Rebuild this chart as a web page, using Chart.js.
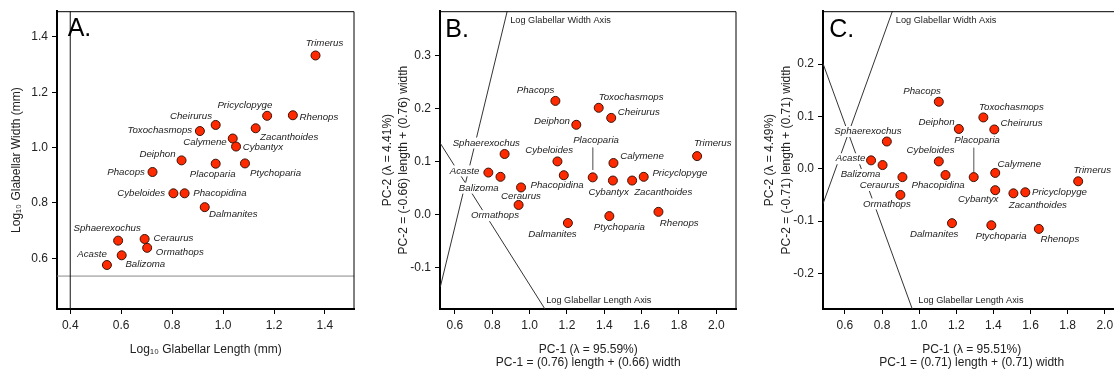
<!DOCTYPE html>
<html>
<head>
<meta charset="utf-8">
<script src="https://cdn.jsdelivr.net/npm/chart.js@4.4.1/dist/chart.umd.min.js"></script>
<style>
  html, body { margin: 0; padding: 0; background: #fff; overflow: hidden; }
  body { width: 1114px; height: 372px; position: relative; }
  .panel { position: absolute; top: 0; height: 372px; }
</style>
</head>
<body>
<div class="panel" style="left:0;width:360px"><canvas id="chartA"></canvas></div>
<div class="panel" style="left:370px;width:372px"><canvas id="chartB"></canvas></div>
<div class="panel" style="left:740px;width:386px"><canvas id="chartC"></canvas></div>
<script>
// taxa, same order in every array
const species = ['Acaste', 'Balizoma', 'Calymene', 'Ceraurus', 'Cheirurus', 'Cybantyx', 'Cybeloides',
  'Dalmanites', 'Deiphon', 'Ormathops', 'Phacopidina', 'Phacops', 'Placoparia', 'Pricyclopyge',
  'Ptychoparia', 'Rhenops', 'Sphaerexochus', 'Toxochasmops', 'Trimerus', 'Zacanthoides'];

// A. log10 glabellar length / width (mm)
const logLength = [0.544, 0.602, 1.038, 0.692, 0.971, 1.051, 0.805, 0.928, 0.837, 0.702,
  0.849, 0.723, 0.971, 1.173, 1.086, 1.274, 0.588, 0.909, 1.363, 1.128];
const logWidth = [0.576, 0.611, 1.033, 0.670, 1.082, 1.004, 0.835, 0.785, 0.954, 0.638,
  0.835, 0.912, 0.942, 1.115, 0.943, 1.117, 0.664, 1.060, 1.333, 1.070];

// B. PCA scores
const pc1B = [0.779, 0.844, 1.449, 0.954, 1.437, 1.446, 1.149, 1.205, 1.250, 0.941,
  1.183, 1.138, 1.338, 1.611, 1.427, 1.690, 0.866, 1.370, 1.897, 1.549];
const pc2B = [0.079, 0.071, 0.097, 0.051, 0.182, 0.064, 0.100, -0.016, 0.169, 0.018,
  0.074, 0.214, 0.070, 0.071, -0.003, 0.005, 0.114, 0.201, 0.110, 0.064];

// C. PCA scores
const pc1C = [0.741, 0.803, 1.410, 0.910, 1.405, 1.410, 1.106, 1.177, 1.214, 0.899,
  1.142, 1.106, 1.294, 1.572, 1.389, 1.645, 0.826, 1.346, 1.857, 1.508];
const pc2C = [0.016, 0.007, -0.008, -0.016, 0.075, -0.041, 0.014, -0.104, 0.076, -0.050,
  -0.012, 0.128, -0.016, -0.045, -0.108, -0.115, 0.052, 0.098, -0.024, -0.047];

// tick labels
const ticksAx = [0.4, 0.6, 0.8, 1.0, 1.2, 1.4];
const ticksAy = [0.6, 0.8, 1.0, 1.2, 1.4];
const ticksBx = [0.6, 0.8, 1.0, 1.2, 1.4, 1.6, 1.8, 2.0];
const ticksBy = [-0.1, 0.0, 0.1, 0.2, 0.3];
const ticksCx = [0.6, 0.8, 1.0, 1.2, 1.4, 1.6, 1.8, 2.0];
const ticksCy = [-0.2, -0.1, 0.0, 0.1, 0.2];

// reference lines (data units)
const originA = [0.4, 0.536];   // x = 0.4 vertical, y = 0.536 horizontal
const widthAxisB = [[0.880, 0.383], [0.522, -0.136]];
const lengthAxisB = [[0.522, 0.134], [1.082, -0.178]];
const leaderB = [[1.338, 0.126], [1.338, 0.084]];
const widthAxisC = [[0.856, 0.301], [0.482, -0.067]];
const lengthAxisC = [[0.482, 0.201], [0.963, -0.268]];
const leaderC = [[1.294, 0.040], [1.294, -0.007]];

// label placement: [dx, dy, align]
const posA = {
  Trimerus: [9, -12.6, 'center'], Pricyclopyge: [-22.3, -10.7, 'center'], Rhenops: [6.7, 2, 'left'],
  Cheirurus: [-3.7, -9, 'right'], Toxochasmops: [-7.7, -1, 'right'], Zacanthoides: [4.4, 8.7, 'left'],
  Calymene: [-6, 3.7, 'right'], Cybantyx: [6.6, 1, 'left'], Deiphon: [-6, -6.3, 'right'],
  Placoparia: [-3, 11, 'center'], Ptychoparia: [5, 9.4, 'left'], Phacops: [-7.6, 0, 'right'],
  Cybeloides: [-8.3, 0, 'right'], Phacopidina: [8.6, 0, 'left'], Dalmanites: [4.3, 7.3, 'left'],
  Sphaerexochus: [-11, -12.7, 'center'], Ceraurus: [9, -0.7, 'left'], Ormathops: [8.7, 4, 'left'],
  Balizoma: [3.7, 9, 'left'], Acaste: [0, -10.7, 'right']
};
const posB = {
  Phacops: [-1, -10.7, 'right'], Toxochasmops: [0, -11, 'left'], Cheirurus: [6.6, -5.3, 'left'],
  Deiphon: [-6.3, -3.7, 'right'], Sphaerexochus: [-18.3, -11, 'center'], Trimerus: [15.7, -13, 'center'],
  Cybeloides: [-8.3, -11.3, 'center'], Placoparia: [3.3, -36.6, 'center'], Calymene: [6.7, -7, 'left'],
  Acaste: [-9, -1.7, 'right'], Pricyclopyge: [8.7, -4, 'left'], Phacopidina: [-6.7, 10.4, 'center'],
  Balizoma: [-21.7, 11.3, 'center'], Ceraurus: [0, 8.4, 'center'], Cybantyx: [-4.3, 12, 'center'],
  Zacanthoides: [2, 12, 'left'], Ormathops: [0.4, 10.7, 'right'], Rhenops: [1.4, 11.3, 'left'],
  Ptychoparia: [10, 11, 'center'], Dalmanites: [-15.5, 11, 'center']
};
const posC = {
  Phacops: [-16.7, -10.3, 'center'], Toxochasmops: [-4.3, -10, 'left'], Deiphon: [-4.3, -6.3, 'right'],
  Cheirurus: [6.3, -6.4, 'left'], Sphaerexochus: [-18.9, -10, 'center'], Placoparia: [3.4, -37, 'center'],
  Cybeloides: [-8.3, -11.6, 'center'], Acaste: [-5.7, -1.6, 'right'], Calymene: [2.3, -9, 'left'],
  Trimerus: [-4.7, -10.6, 'left'], Balizoma: [-22, 9.4, 'center'], Ceraurus: [-22.8, 8.4, 'center'],
  Phacopidina: [-7.4, 10.4, 'center'], Pricyclopyge: [6.7, 0, 'left'], Cybantyx: [-17, 8.7, 'center'],
  Zacanthoides: [24.4, 12.4, 'center'], Ormathops: [-13.5, 9, 'center'], Dalmanites: [-17.8, 10.7, 'center'],
  Ptychoparia: [9.7, 10.6, 'center'], Rhenops: [21, 10.7, 'center']
};

const FONT = '"Liberation Sans", Arial, Helvetica, sans-serif';
Chart.defaults.font.family = FONT;
Chart.defaults.color = '#222';

const labelPlugin = {
  id: 'speciesLabels',
  beforeDatasetDraw(chart, args, opts) {
    if (args.index !== 0) return;
    const meta = chart.getDatasetMeta(0);
    const ctx = chart.ctx;
    ctx.save();
    ctx.font = 'italic 9.7px ' + FONT;
    ctx.textBaseline = 'middle';
    species.forEach((name, i) => {
      const p = meta.data[i];
      const [dx, dy, al] = opts.pos[name];
      const tx = p.x + dx, ty = p.y + dy;
      const w = ctx.measureText(name).width;
      const x0 = al === 'left' ? tx : al === 'right' ? tx - w : tx - w / 2;
      ctx.fillStyle = '#fff';
      ctx.fillRect(x0 - 1, ty - 5.5, w + 2, 11);
      ctx.fillStyle = '#222';
      ctx.textAlign = al;
      ctx.fillText(name, tx, ty);
    });
    ctx.restore();
  }
};

const framePlugin = {
  id: 'frame',
  afterDraw(chart, args, opts) {
    const {ctx, chartArea: a, scales} = chart;
    ctx.save();
    ctx.strokeStyle = '#000';
    ctx.lineWidth = 1;
    ctx.beginPath();
    ctx.moveTo(a.left, a.top + 0.5);
    ctx.lineTo(a.right - 0.5, a.top + 0.5);
    ctx.lineTo(a.right - 0.5, a.bottom);
    ctx.stroke();
    // panel letter
    ctx.fillStyle = '#000';
    ctx.font = '25px ' + FONT;
    ctx.textAlign = 'left';
    ctx.textBaseline = 'alphabetic';
    ctx.fillText(opts.letter, a.left + opts.letterDx, opts.letterY);
    // axis notes
    ctx.font = '9.2px ' + FONT;
    ctx.fillStyle = '#222';
    ctx.textBaseline = 'middle';
    (opts.notes || []).forEach(n => {
      const x = scales.x.getPixelForValue(n.at[0]) + n.dx;
      const y = scales.y.getPixelForValue(n.at[1]) + n.dy;
      ctx.fillText(n.text, x, y);
    });
    ctx.restore();
  }
};

function lineSet(pts, color) {
  return {
    data: pts.map(p => ({x: p[0], y: p[1]})),
    showLine: true, pointRadius: 0, pointHoverRadius: 0,
    borderColor: color, borderWidth: 1, order: 1
  };
}

function makePanel(id, c) {
  const datasets = [{
    data: c.xs.map((x, i) => ({x: x, y: c.ys[i]})),
    order: 0,
    backgroundColor: '#ff2a00',
    borderColor: '#3a1208',
    borderWidth: 1,
    pointRadius: 4.5,
    pointHoverRadius: 4.5
  }].concat(c.lines);

  const axisCommon = {
    type: 'linear',
    grid: {drawOnChartArea: false, drawTicks: true, tickLength: 5, color: '#000'},
    border: {display: true, color: '#000', width: 2}
  };

  new Chart(document.getElementById(id), {
    type: 'scatter',
    data: {datasets},
    options: {
      responsive: true,
      maintainAspectRatio: false,
      animation: false,
      events: [],
      layout: {padding: {top: 11, right: 3, left: 0, bottom: 0}},
      plugins: {
        legend: {display: false},
        tooltip: {enabled: false},
        speciesLabels: {pos: c.pos},
        frame: {letter: c.letter, letterDx: c.letterDx, letterY: c.letterY, notes: c.notes}
      },
      scales: {
        x: Object.assign({}, axisCommon, {
          position: 'bottom',
          min: c.xMin, max: c.xMax,
          afterBuildTicks: s => { s.ticks = c.xTicks.map(v => ({value: v})); },
          afterFit: s => { s.height = 63; },
          ticks: {padding: 4, font: {size: 12}, maxRotation: 0, autoSkip: false, callback: v => v.toFixed(1)},
          title: {display: true, text: c.xTitle, font: {size: 12, lineHeight: c.xTitleLH},
            padding: {top: 0, bottom: c.xTitlePad}}
        }),
        y: Object.assign({}, axisCommon, {
          position: 'left',
          min: c.yMin, max: c.yMax,
          afterBuildTicks: s => { s.ticks = c.yTicks.map(v => ({value: v})); },
          afterFit: s => { s.width = c.left; },
          ticks: {padding: 4, font: {size: 12}, autoSkip: false, callback: v => v.toFixed(1)},
          title: {display: true, text: c.yTitle, font: {size: 12, lineHeight: c.yTitleLH},
            padding: {top: c.yTitlePad, bottom: 0}}
        })
      }
    },
    plugins: [labelPlugin, framePlugin]
  });
}

makePanel('chartA', {
  xs: logLength, ys: logWidth, pos: posA,
  xMin: 0.348, xMax: 1.516, yMin: 0.417, yMax: 1.493,
  xTicks: ticksAx, yTicks: ticksAy, left: 57,
  xTitle: 'Log\u2081\u2080 Glabellar Length (mm)', xTitleLH: 1.2, xTitlePad: 15.5,
  yTitle: 'Log\u2081\u2080 Glabellar Width (mm)', yTitleLH: 1.2, yTitlePad: 9.5,
  letter: 'A.', letterDx: 10.7, letterY: 36,
  lines: [
    lineSet([[originA[0], 0.417], [originA[0], 1.493]], '#111'),
    lineSet([[0.348, originA[1]], [1.516, originA[1]]], '#888')
  ],
  notes: []
});

makePanel('chartB', {
  xs: pc1B, ys: pc2B, pos: posB,
  xMin: 0.520, xMax: 2.108, yMin: -0.178, yMax: 0.383,
  xTicks: ticksBx, yTicks: ticksBy, left: 70,
  xTitle: ['PC-1 (\u03bb = 95.59%)', 'PC-1 = (0.76) length + (0.66) width'], xTitleLH: 13.33 / 12, xTitlePad: 2.7,
  yTitle: ['PC-2 (\u03bb = 4.41%)', 'PC-2 = (-0.66) length + (0.76) width'], yTitleLH: 16 / 12, yTitlePad: 9.3,
  letter: 'B.', letterDx: 5.3, letterY: 36.7,
  lines: [lineSet(widthAxisB, '#333'), lineSet(lengthAxisB, '#333'), lineSet(leaderB, '#888')],
  notes: [
    {text: 'Log Glabellar Width Axis', at: widthAxisB[0], dx: 3, dy: 9.3},
    {text: 'Log Glabellar Length Axis', at: lengthAxisB[1], dx: 1.3, dy: -8.6}
  ]
});

makePanel('chartC', {
  xs: pc1C, ys: pc2C, pos: posC,
  xMin: 0.482, xMax: 2.085, yMin: -0.268, yMax: 0.301,
  xTicks: ticksCx, yTicks: ticksCy, left: 83,
  xTitle: ['PC-1 (\u03bb = 95.51%)', 'PC-1 = (0.71) length + (0.71) width'], xTitleLH: 13.33 / 12, xTitlePad: 2.7,
  yTitle: ['PC-2 (\u03bb = 4.49%)', 'PC-2 = (-0.71) length + (0.71) width'], yTitleLH: 16.5 / 12, yTitlePad: 21.75,
  letter: 'C.', letterDx: 6.2, letterY: 36.7,
  lines: [lineSet(widthAxisC, '#333'), lineSet(lengthAxisC, '#333'), lineSet(leaderC, '#888')],
  notes: [
    {text: 'Log Glabellar Width Axis', at: widthAxisC[0], dx: 3.4, dy: 9.3},
    {text: 'Log Glabellar Length Axis', at: lengthAxisC[1], dx: 6, dy: -8.6}
  ]
});
</script>
</body>
</html>
